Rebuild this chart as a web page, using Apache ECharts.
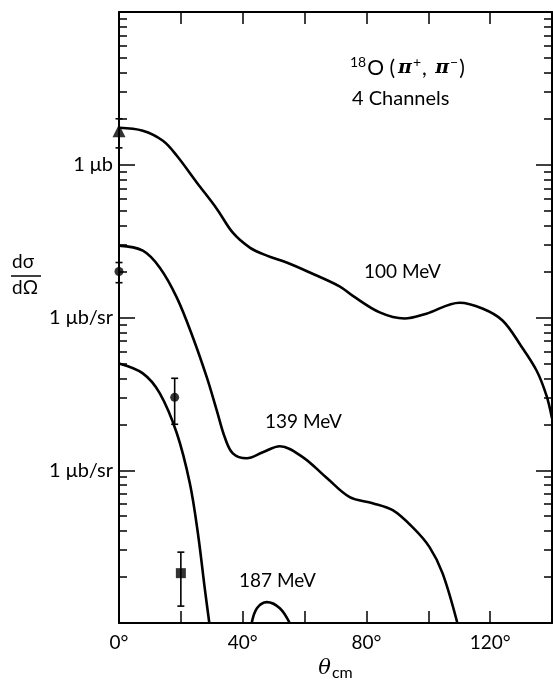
<!DOCTYPE html>
<html>
<head>
<meta charset="utf-8">
<script src="https://cdn.jsdelivr.net/npm/echarts@6/dist/echarts.min.js"></script>
<style>
  html, body { margin: 0; padding: 0; background: #fff; }
  #chart { width: 553px; height: 685px; }
</style>
</head>
<body>
<div id="chart"></div>
<script>
// angle (deg, c.m.) and plotted cross section for each beam energy
var theta100 = [0, 7.7, 14.2, 18.7, 25.2, 31.6, 36.8, 42.3, 47.8, 54.2, 61.7, 71.3, 75.5, 84.3, 92.3, 99.4, 110.1, 117.5, 124.0, 129.9, 135.0, 138.2, 140];
var sigma100 = [1.745, 1.67, 1.435, 1.145, 0.763, 0.516, 0.359, 0.287, 0.254, 0.229, 0.197, 0.160, 0.139, 0.108, 0.0985, 0.106, 0.125, 0.1145, 0.0956, 0.0656, 0.0450, 0.0309, 0.0219];

var theta139 = [0, 7.7, 13.2, 18.7, 23.9, 28.4, 31.6, 34.2, 36.8, 41.3, 46.5, 52.0, 59.4, 67.2, 74.6, 82.0, 88.5, 94.9, 100.4, 104.6, 109.4];
var sigma139 = [0.2955, 0.274, 0.212, 0.135, 0.074, 0.0405, 0.0247, 0.01643, 0.0129, 0.01198, 0.01312, 0.01435, 0.0122, 0.0089, 0.00667, 0.00609, 0.00548, 0.00424, 0.00314, 0.00212, 0.001];

var theta187 = [0, 7.7, 13.2, 18.7, 22.9, 25.5, 27.8, 29.2];
var sigma187 = [0.05, 0.0431, 0.0319, 0.01746, 0.00822, 0.00388, 0.00164, 0.001];
// second lobe of the 187 MeV curve
var theta187b = [42.9, 44.6, 47.8, 52.0, 55.2];
var sigma187b = [0.001, 0.00125, 0.00137, 0.00125, 0.001];

// measured points
var ptTheta = [0, 0, 18, 20];
var ptSigma = [1.67, 0.2, 0.030, 0.00212];
var ptLow = [1.29, 0.169, 0.020, 0.00129];
var ptHigh = [2.0, 0.229, 0.040, 0.00291];
var ptSymbol = ['triangle', 'circle', 'circle', 'rect'];
var ptSize = [13, 9, 9, 10];

var xLabels = [0, 40, 80, 120];

function pairs(xs, ys) {
    return xs.map(function (x, i) { return [x, ys[i]]; });
}

var FONT = 'Lato';

var chart = echarts.init(document.getElementById('chart'));

function curve(name, xs, ys) {
    return {
        name: name,
        type: 'line',
        smooth: 0.35,
        showSymbol: false,
        symbol: 'none',
        clip: true,
        lineStyle: { color: '#000', width: 2.6 },
        data: pairs(xs, ys),
        z: 3
    };
}

function isDecade(v, p) {
    return Math.abs(Math.log10(v) - p) < 1e-6;
}

var yLabelFmt = function (v) {
    if (isDecade(v, 0)) return '1 μb';
    if (isDecade(v, -1) || isDecade(v, -2)) return '1 μb/sr';
    return '';
};

var axisLine = { show: true, onZero: false, lineStyle: { color: '#000', width: 2 } };

chart.setOption({
    animation: false,
    backgroundColor: '#fff',
    grid: { left: 119, right: 1, top: 12, bottom: 62, outerBoundsMode: 'none', containLabel: false },
    xAxis: [{
        type: 'value',
        position: 'bottom',
        min: 0,
        max: 140,
        interval: 20,
        axisLine: axisLine,
        axisTick: { inside: true, length: 12, lineStyle: { color: '#000', width: 1.5 } },
        axisLabel: {
            margin: 10,
            color: '#000',
            fontFamily: FONT,
            fontSize: 19,
            formatter: function (v) { return xLabels.indexOf(v) >= 0 ? v + '°' : ''; }
        },
        splitLine: { show: false },
        name: '{t|θ}{s|cm}',
        nameLocation: 'middle',
        nameGap: 33,
        nameTextStyle: {
            rich: {
                t: { fontFamily: 'DejaVu Serif', fontStyle: 'italic', fontSize: 21, color: '#000' },
                s: { fontFamily: FONT, fontSize: 16, color: '#000', padding: [9, 0, 0, 1] }
            }
        }
    }, {
        type: 'value',
        position: 'top',
        min: 0,
        max: 140,
        interval: 20,
        axisLine: axisLine,
        axisTick: { inside: true, length: 12, lineStyle: { color: '#000', width: 1.5 } },
        axisLabel: { show: false },
        splitLine: { show: false }
    }],
    yAxis: [{
        type: 'log',
        logBase: 10,
        position: 'left',
        min: 0.001,
        max: 10,
        splitNumber: 4,
        axisLine: axisLine,
        axisTick: { inside: true, length: 16, lineStyle: { color: '#000', width: 1.5 } },
        minorTick: { show: true, splitNumber: 9, length: 8, lineStyle: { color: '#000', width: 1.5 } },
        axisLabel: { color: '#000', fontFamily: FONT, fontSize: 20, margin: 6, formatter: yLabelFmt, hideOverlap: false },
        splitLine: { show: false },
        minorSplitLine: { show: false }
    }, {
        type: 'log',
        logBase: 10,
        position: 'right',
        min: 0.001,
        max: 10,
        splitNumber: 4,
        axisLine: axisLine,
        axisTick: { inside: true, length: 16, lineStyle: { color: '#000', width: 1.5 } },
        minorTick: { show: true, splitNumber: 9, length: 8, lineStyle: { color: '#000', width: 1.5 } },
        axisLabel: { show: false },
        splitLine: { show: false },
        minorSplitLine: { show: false }
    }],
    graphic: [
        // d sigma / d Omega
        { type: 'text', left: 12, top: 252, style: { text: 'dσ', font: '19px ' + FONT, fill: '#000' } },
        { type: 'line', shape: { x1: 11, y1: 276, x2: 41, y2: 276 }, style: { stroke: '#000', lineWidth: 1.5 } },
        { type: 'text', left: 12, top: 278, style: { text: 'dΩ', font: '19px ' + FONT, fill: '#000' } },
        // reaction title
        {
            type: 'text', left: 350, top: 55,
            style: {
                text: '{s|18}{b|O (}{p|π}{s|+}{b|, }{p|π}{s|−}{b|)}',
                rich: {
                    s: { fontFamily: FONT, fontSize: 14, fill: '#000', padding: [0, 1, 12, 0] },
                    b: { fontFamily: FONT, fontSize: 21, fill: '#000' },
                    p: { fontFamily: 'DejaVu Serif', fontStyle: 'italic', fontWeight: 'bold', fontSize: 19, fill: '#000', padding: [0, 1, 0, 3] }
                }
            }
        },
        { type: 'text', left: 352, top: 89, style: { text: '4 Channels', font: '20px ' + FONT, fill: '#000' } },
        { type: 'text', left: 364, top: 262, style: { text: '100 MeV', font: '19px ' + FONT, fill: '#000' } },
        { type: 'text', left: 265, top: 412, style: { text: '139 MeV', font: '19px ' + FONT, fill: '#000' } },
        { type: 'text', left: 239, top: 571, style: { text: '187 MeV', font: '19px ' + FONT, fill: '#000' } }
    ],
    series: [
        curve('100 MeV', theta100, sigma100),
        curve('139 MeV', theta139, sigma139),
        curve('187 MeV', theta187, sigma187),
        curve('187 MeV b', theta187b, sigma187b),
        {
            name: 'errors',
            type: 'custom',
            clip: false,
            data: ptTheta.map(function (t, i) { return [t, ptLow[i], ptHigh[i]]; }),
            renderItem: function (params, api) {
                var lo = api.coord([api.value(0), api.value(1)]);
                var hi = api.coord([api.value(0), api.value(2)]);
                var cap = 3.5;
                var st = { stroke: '#000', lineWidth: 1.6 };
                return {
                    type: 'group',
                    children: [
                        { type: 'line', shape: { x1: lo[0], y1: lo[1], x2: hi[0], y2: hi[1] }, style: st },
                        { type: 'line', shape: { x1: lo[0] - cap, y1: lo[1], x2: lo[0] + cap, y2: lo[1] }, style: st },
                        { type: 'line', shape: { x1: hi[0] - cap, y1: hi[1], x2: hi[0] + cap, y2: hi[1] }, style: st }
                    ]
                };
            },
            z: 4
        },
        {
            name: 'data',
            type: 'scatter',
            clip: false,
            data: ptTheta.map(function (t, i) {
                return { value: [t, ptSigma[i]], symbol: ptSymbol[i], symbolSize: ptSize[i] };
            }),
            itemStyle: { color: '#000' },
            z: 5
        }
    ]
});
</script>
</body>
</html>
